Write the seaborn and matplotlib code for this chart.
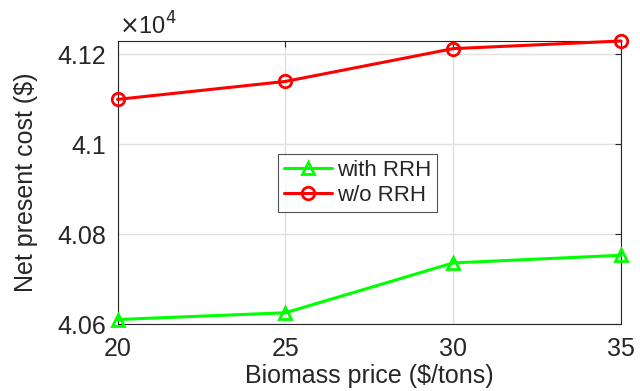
import matplotlib
matplotlib.use("Agg")
import matplotlib.pyplot as plt
import seaborn as sns
import pandas as pd
from matplotlib.ticker import FuncFormatter, FixedLocator

biomass_price = [20, 25, 30, 35]
with_rrh = [40610, 40625, 40736, 40753]
wo_rrh = [41100, 41140, 41213, 41230]
series_names = ["with RRH", "w/o RRH"]
y_ticks = [40600, 40800, 41000, 41200]

sns.set_style("white")
plt.rcParams['font.family'] = ['Liberation Sans', 'DejaVu Sans']

fig = plt.figure(figsize=(6.4, 3.91), dpi=100)
ax = fig.add_axes([117.5/640, 1-324/391, (621-117.5)/640, (324-41)/391])

df1 = pd.DataFrame({"x": biomass_price, "y": with_rrh})
df2 = pd.DataFrame({"x": biomass_price, "y": wo_rrh})
sns.lineplot(data=df1, x="x", y="y", ax=ax, color="#00FF00", marker="^", markersize=9,
             markerfacecolor="none", markeredgecolor="#00FF00", markeredgewidth=2,
             linewidth=2.2, label=series_names[0], clip_on=False, zorder=3)
sns.lineplot(data=df2, x="x", y="y", ax=ax, color="#FF0000", marker="o", markersize=9,
             markerfacecolor="none", markeredgecolor="#FF0000", markeredgewidth=2,
             linewidth=2.2, label=series_names[1], clip_on=False, zorder=3)

ax.set_xlim(20, 35)
ax.set_ylim(40600, max(wo_rrh))
ax.xaxis.set_major_locator(FixedLocator(biomass_price))
ax.yaxis.set_major_locator(FixedLocator(y_ticks))
ax.yaxis.set_major_formatter(FuncFormatter(lambda v, p: f"{v/1e4:g}"))

ax.grid(True, color="#e0e0e0", linewidth=1)
ax.set_axisbelow(True)
for s in ax.spines.values():
    s.set_visible(True)
    s.set_color("#262626")
    s.set_linewidth(0.8)
ax.tick_params(direction="in", length=4, width=0.8, colors="#262626",
               labelsize=18, labelcolor="#262626", top=True, right=True)
ax.tick_params(axis="y", pad=8)
ax.tick_params(axis="x", pad=9)

ax.set_xlabel("Biomass price (\\$/tons)", fontsize=18, color="#262626")
ax.set_ylabel("Net present cost (\\$)", fontsize=18, color="#262626")
ax.xaxis.set_label_coords(0.5, (324-376)/283)
ax.xaxis.label.set_va("center")
ax.yaxis.set_label_coords((26-117.5)/503.5, 0.5)
ax.yaxis.label.set_va("center")

fig.text(119/640, 1-35/391, "$\\times$10$^4$", fontsize=17, color="#262626",
         ha="left", va="baseline")

leg = ax.legend(loc="upper left", bbox_to_anchor=(278/640, 1-154/391),
                bbox_transform=fig.transFigure, borderaxespad=0, fontsize=16,
                frameon=True, fancybox=False, edgecolor="#262626",
                handlelength=2.2, handletextpad=0.2, borderpad=0.25, labelspacing=0.2)
leg.get_frame().set_linewidth(0.8)

fig.savefig("out.png", dpi=100)
